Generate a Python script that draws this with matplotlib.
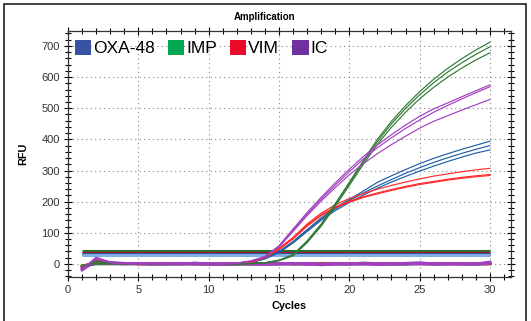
import matplotlib
matplotlib.use("Agg")
import matplotlib.pyplot as plt
from matplotlib.patches import Patch, Rectangle
from matplotlib.ticker import MultipleLocator

plt.rcParams['font.family'] = ['Liberation Sans', 'DejaVu Sans']

cycles = list(range(1, 31))

# OXA-48 (blue)
oxa_1 = [-12, 8, 3, 1, 0, 1, 0, 1, 0, 0, 0, 1, 5, 18, 40, 72, 110, 148, 180, 207, 234, 262, 283, 303, 322, 339, 354, 368, 381, 394]
oxa_2 = [-10, 6, 2, 0, 1, 0, 1, 0, 1, 0, 1, 1, 4, 17, 38, 70, 107, 144, 176, 203, 228, 250, 271, 291, 309, 326, 341, 355, 368, 380]
oxa_3 = [-8, 5, 2, 1, 0, 0, 0, 1, 0, 1, 0, 1, 4, 16, 36, 67, 104, 140, 171, 197, 221, 243, 263, 281, 298, 314, 329, 343, 356, 366]
# IMP (green)
imp_1 = [-10, 10, 3, 0, 1, 0, 1, 0, 0, 1, 0, 0, 1, 4, 12, 30, 74, 128, 193, 262, 332, 400, 458, 508, 553, 593, 628, 659, 687, 712]
imp_2 = [-6, 4, 1, 0, 0, 1, 0, 0, 1, 0, 0, 1, 1, 4, 11, 28, 71, 125, 190, 258, 327, 393, 450, 499, 543, 582, 616, 646, 673, 697]
imp_3 = [-4, 2, 0, 1, 0, 0, 1, 0, 0, 0, 1, 0, 1, 3, 10, 26, 68, 121, 185, 252, 320, 384, 439, 487, 530, 567, 600, 629, 655, 678]
# VIM (red)
vim_1 = [-14, 14, 4, 1, 0, 1, 0, 1, 0, 0, 1, 2, 6, 22, 50, 85, 128, 163, 190, 210, 226, 240, 252, 263, 273, 282, 289, 296, 302, 307]
vim_2 = [-11, 10, 3, 0, 1, 0, 1, 0, 1, 0, 0, 2, 6, 21, 48, 82, 124, 158, 183, 201, 216, 228, 239, 249, 258, 265, 272, 278, 283, 287]
vim_3 = [-9, 8, 2, 1, 0, 0, 1, 0, 0, 1, 0, 1, 5, 20, 46, 80, 121, 155, 180, 198, 213, 225, 236, 246, 255, 262, 269, 275, 280, 284]
# IC (purple)
ic_1 = [-18, 22, 6, 2, 0, 1, 0, 1, 0, 0, 1, 3, 10, 24, 58, 112, 165, 214, 260, 304, 345, 382, 415, 446, 474, 498, 517, 537, 556, 575]
ic_2 = [-16, 18, 5, 1, 1, 0, 1, 0, 0, 1, 0, 3, 9, 23, 56, 108, 160, 208, 253, 296, 337, 373, 405, 435, 462, 487, 509, 530, 550, 569]
ic_3 = [-14, 15, 4, 1, 0, 1, 0, 0, 1, 0, 0, 2, 8, 22, 54, 104, 155, 202, 245, 286, 322, 354, 383, 410, 436, 458, 476, 494, 511, 528]

# baseline (negative) wells
neg_ic_1 = [-20, 12, 5, 2, 0, 1, -1, 1, 0, -1, -2, 0, 1, 0, -1, 2, 0, -3, -1, 0, 1, -2, 0, 2, 4, 0, -1, 1, 0, 6]
neg_ic_2 = [-16, 8, 3, 1, 1, -1, 0, 2, 1, 0, -1, 1, 0, -2, 0, 1, -1, -2, 0, 1, -1, 0, 1, 0, 2, 1, 0, -1, 1, 3]
neg_ic_3 = [-12, 4, 2, 0, 2, 0, 1, 0, -1, 1, 0, -1, 1, 0, 1, 0, 2, -1, 1, 0, 0, 1, -1, 1, 0, -1, 1, 0, -1, 2]
neg_oxa = [-10, 2, 1, 0, 1, 2, 0, -1, 3, 0, 1, 0, -1, 1, 0, 1, 0, 2, 0, -1, 1, 0, 0, -1, 1, 0, 1, 0, 0, 1]
neg_imp = [-6, 0, 0, 1, 0, -1, 0, 1, 0, -1, 0, 0, 1, 0, 1, -1, 0, 1, 2, 0, 3, 1, -1, 0, 1, -1, 0, 1, -1, 0]
neg_vim = [-8, 6, 2, 1, 0, 1, 2, 0, 1, 0, -1, 1, 0, 1, 2, 0, 1, 0, 1, 2, 1, 0, 2, 1, 0, 2, 1, 0, 1, 0]

thresholds = [40, 36, 32, 28]
threshold_colors = ['#2a6e2a', '#b0182a', '#2a52a0', '#7fb0e0']

labels = ['OXA-48', 'IMP', 'VIM', 'IC']
legend_colors = ['#3953a4', '#00a651', '#ec0a2c', '#7030a0']
curve_colors = {'OXA-48': '#1f5fa6', 'IMP': '#2f7a34', 'VIM': '#ff2a2a', 'IC': '#a23fc0'}

series = {
    'OXA-48': [oxa_1, oxa_2, oxa_3],
    'IMP': [imp_1, imp_2, imp_3],
    'VIM': [vim_1, vim_2, vim_3],
    'IC': [ic_1, ic_2, ic_3],
}
negatives = [(neg_oxa, 'OXA-48'), (neg_imp, 'IMP'), (neg_vim, 'VIM'),
             (neg_ic_1, 'IC'), (neg_ic_2, 'IC'), (neg_ic_3, 'IC')]

fig = plt.figure(figsize=(5.31, 3.21), dpi=100)
ax = fig.add_axes([68 / 531, 1 - 277 / 321, (511 - 68) / 531, (277 - 31) / 321])

ax.set_xlim(0, 31.5)
ax.set_ylim(-42, 748)

for y, c in zip(thresholds, threshold_colors):
    ax.plot([cycles[0], cycles[-1]], [y, y], color=c, lw=2.2, solid_capstyle='butt', zorder=3)

for vals, name in negatives:
    ax.plot(cycles, vals, color=curve_colors[name], lw=2.0, zorder=4)

for name in ['OXA-48', 'VIM', 'IMP', 'IC']:
    for vals in series[name]:
        ax.plot(cycles, vals, color=curve_colors[name], lw=0.85, zorder=5)

ax.xaxis.set_major_locator(MultipleLocator(5))
ax.xaxis.set_minor_locator(MultipleLocator(1))
ax.yaxis.set_major_locator(MultipleLocator(100))
ax.yaxis.set_minor_locator(MultipleLocator(20))
ax.tick_params(which='both', direction='inout', top=True, right=True,
               labelsize=8, labelcolor='#333333', width=0.8)
ax.tick_params(which='major', length=6, pad=3)
ax.tick_params(which='minor', length=4)
ax.grid(True, which='major', linestyle=(0, (1, 3)), color='#888888', lw=0.8)
for s in ax.spines.values():
    s.set_linewidth(0.9)
    s.set_color('#333333')

ax.set_xlabel('Cycles', fontsize=7.8, fontweight='bold', labelpad=4)
ax.set_ylabel('RFU', fontsize=7.8, fontweight='bold', labelpad=9)
fig.text(265 / 531, 1 - 17 / 321, 'Amplification', ha='center', va='center',
         fontsize=7, fontweight='bold')

handles = [Patch(facecolor=c, edgecolor='none') for c in legend_colors]
ax.legend(handles, labels, loc='upper left', bbox_to_anchor=(0.0, 0.992), ncol=4,
          frameon=False, fontsize=12.5, handlelength=0.95, handleheight=0.95,
          handletextpad=0.1, columnspacing=0.75, borderaxespad=0.0)

fig.patches.append(Rectangle((3.5 / 531, -0.05), (526 - 3.5) / 531, 1.05 - 4 / 321,
                             transform=fig.transFigure, fill=False, edgecolor='#222222',
                             lw=1.2, zorder=10))

fig.savefig('out.png', dpi=100)
